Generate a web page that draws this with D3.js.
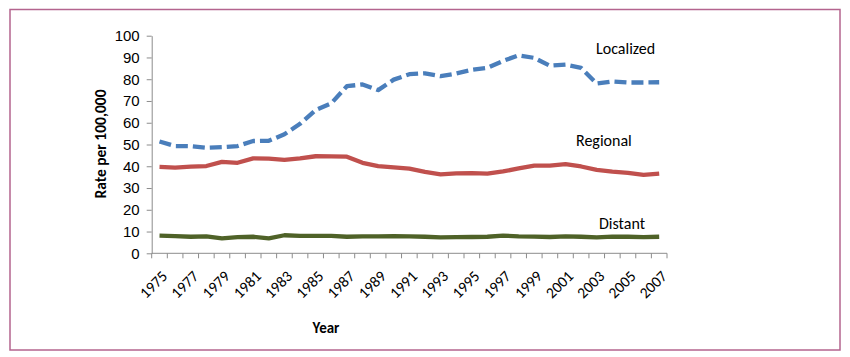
<!DOCTYPE html>
<html><head><meta charset="utf-8">
<script src="https://cdn.jsdelivr.net/npm/d3@7"></script>
<style>
html,body{margin:0;padding:0;background:#fff;}
svg{display:block;font-family:Carlito,"Open Sans","Liberation Sans",sans-serif;}
</style></head>
<body><svg id="c" width="850" height="357"></svg>
<script>
const years = d3.range(1975, 2008);
const localized = [51.4,49.3,49.2,48.5,48.8,49.3,51.6,51.7,54.7,59.5,65.8,68.9,76.8,77.6,75.0,79.8,82.3,82.7,81.4,82.6,84.3,85.2,88.4,91.0,89.8,86.2,86.7,85.2,78.0,79.0,78.5,78.5,78.6];
const regional = [39.7,39.4,39.8,40.1,42.0,41.6,43.6,43.5,42.9,43.6,44.6,44.5,44.4,41.6,40.1,39.5,38.9,37.4,36.3,36.7,36.8,36.6,37.6,39.0,40.3,40.3,41.0,39.9,38.3,37.5,37.0,36.0,36.6];
const distant = [8.1,7.9,7.6,7.8,6.9,7.4,7.6,6.9,8.3,8.0,8.0,8.0,7.6,7.8,7.8,7.9,7.8,7.6,7.3,7.4,7.5,7.6,8.1,7.8,7.7,7.5,7.8,7.6,7.3,7.7,7.6,7.4,7.6];
const yTicks = d3.range(0, 101, 10);
const seriesNames = ["Localized","Regional","Distant"];

const svg = d3.select("#c");
// frame
svg.append("rect").attr("x",10).attr("y",9.5).attr("width",830).attr("height",340.5)
  .attr("fill","none").attr("stroke","#b4648e").attr("stroke-width",1.5);

const x = d3.scaleBand().domain(years).range([151.7, 667]);
const y = d3.scaleLinear().domain([0,100]).range([253.3, 35.7]);
const grey = "#8c8c8c";

// y axis
const ya = svg.append("g").attr("transform","translate(151.7,0)")
  .call(d3.axisLeft(y).tickValues(yTicks).tickSize(5).tickPadding(7).tickSizeOuter(0));
ya.select(".domain").attr("stroke",grey);
ya.selectAll(".tick line").attr("stroke",grey);
ya.selectAll(".tick text").attr("font-size",15).attr("fill","#000");

// x axis: ticks at band boundaries
const xa = svg.append("g").attr("transform","translate(0,253.3)");
xa.append("line").attr("x1",x.range()[0]).attr("x2",x.range()[1]).attr("stroke",grey);
const bounds = years.map(d=>x(d)).concat([x.range()[1]]);
xa.selectAll("line.tk").data(bounds).join("line").attr("class","tk")
  .attr("x1",d=>d).attr("x2",d=>d).attr("y1",0).attr("y2",5).attr("stroke",grey);
xa.selectAll("text").data(years.filter((d,i)=>i%2===0)).join("text")
  .attr("transform",d=>`translate(${x(d)+x.bandwidth()/2+5},${20}) rotate(-45)`)
  .attr("text-anchor","end").attr("dy","0.35em").attr("font-size",15.5).attr("fill","#000")
  .text(d=>d);

// titles
svg.append("text").attr("transform","translate(106,144) rotate(-90)")
  .attr("text-anchor","middle").attr("font-size",15.5).attr("font-weight","bold").text("Rate per 100,000");
svg.append("text").attr("x",326).attr("y",333).attr("text-anchor","middle")
  .attr("font-size",15).attr("font-weight","bold").text("Year");

// lines
const line = d3.line().x((d,i)=>x(years[i])+x.bandwidth()/2).y(d=>y(d));
svg.append("path").datum(regional).attr("d",line).attr("fill","none")
  .attr("stroke","#c0504d").attr("stroke-width",4.3).attr("stroke-linejoin","round");
svg.append("path").datum(distant).attr("d",line).attr("fill","none")
  .attr("stroke","#4f6228").attr("stroke-width",4.3).attr("stroke-linejoin","round");
svg.append("path").datum(localized).attr("d",line).attr("fill","none")
  .attr("stroke","#4a7ebb").attr("stroke-width",4.3).attr("stroke-dasharray","12,5").attr("stroke-linejoin","round");

// series labels
const labelPos = [[596,54],[576,146],[599,229]];
svg.selectAll("text.lab").data(seriesNames).join("text").attr("class","lab")
  .attr("x",(d,i)=>labelPos[i][0]).attr("y",(d,i)=>labelPos[i][1])
  .attr("font-size",16).attr("fill","#000").text(d=>d);
</script></body></html>
